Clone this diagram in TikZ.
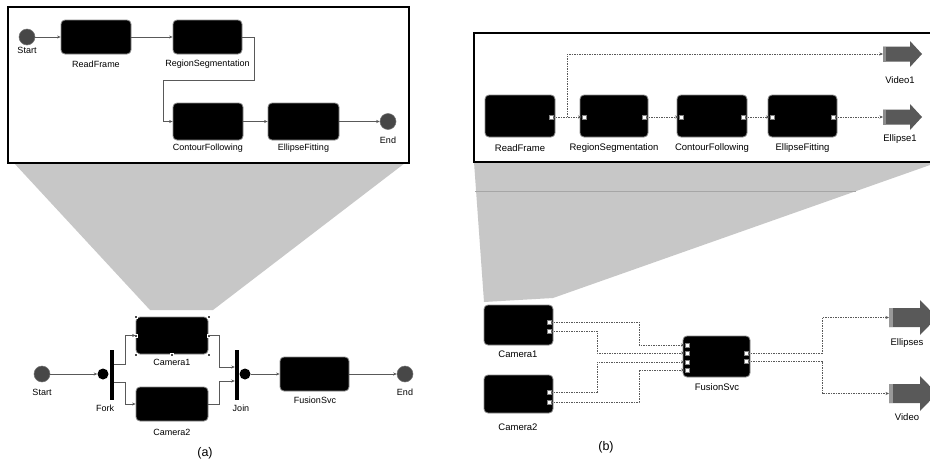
\documentclass[tikz,border=0pt]{standalone}
\usepackage{fontspec}
\setmainfont{Liberation Sans}
\usetikzlibrary{arrows.meta}
\begin{document}
\begin{tikzpicture}[x=1pt,y=-1pt,
 proc/.style={fill=black, draw=black!45, line width=0.8pt, rounded corners=4pt, inner sep=0pt},
 lbl/.style={font=\fontsize{9}{10}\selectfont, inner sep=0pt},
 lblb/.style={font=\fontsize{9.5}{11}\selectfont, inner sep=0pt},
 term/.style={circle, fill=black!72, draw=black!55, line width=0.5pt, minimum size=16pt, inner sep=0pt},
 syncbar/.style={fill=black, inner sep=0pt, minimum width=4pt, minimum height=50pt},
 sdot/.style={circle, fill=black, inner sep=0pt, minimum size=11pt},
 conn/.style={draw=black!65, line width=0.6pt, -{Stealth[length=3.5pt,width=3pt]}},
 dconn/.style={conn, dash pattern=on 1.5pt off 1pt},
 port/.style={rectangle, fill=white, draw=black!50, line width=0.4pt, minimum size=4.5pt, inner sep=0pt},
 handle/.style={rectangle, fill=black!70, draw=white, line width=0.3pt, minimum size=3pt, inner sep=0pt},
 frame/.style={draw=black, line width=1.6pt, fill=white},
 zoomfill/.style={fill=black!22},
 pics/outsmall/.style={code={
   \fill[black!65] (0,-7.5) -- (27,-7.5) -- (27,-13) -- (39,0) -- (27,13) -- (27,7.5) -- (0,7.5) -- cycle;
   \fill[black!45] (0,-7.5) rectangle (3,7.5);
   \coordinate (-in) at (0,0);}},
 pics/outbig/.style={code={
   \fill[black!65] (0,-9.5) -- (31,-9.5) -- (31,-17.5) -- (48,0) -- (31,17.5) -- (31,9.5) -- (0,9.5) -- cycle;
   \fill[black!40] (0,-9.5) rectangle (4,9.5);
   \coordinate (-in) at (0,0);}}
]
\clip (0,0) rectangle (930,466);
\fill[white] (0,0) rectangle (930,466);

% ================= panel (a) =================
\fill[zoomfill] (14,163) -- (405,163) -- (213,310) -- (150,310) -- cycle;
\draw[frame] (8,7) rectangle (409,163);

\node[term] (sA) at (27,37) {};
\node[lbl, anchor=north] at (sA.south) [yshift=-2pt] {Start};
\node[proc, minimum width=70pt, minimum height=34pt] (rfA) at (96,37) {};
\node[lbl] at (96,64) {ReadFrame};
\node[proc, minimum width=69pt, minimum height=34pt] (rsA) at (207.5,37) {};
\node[lbl] at (207.5,64) {RegionSegmentation};
\node[proc, minimum width=70pt, minimum height=37pt] (cfA) at (208,121.5) {};
\node[lbl] at (208,148) {ContourFollowing};
\node[proc, minimum width=71pt, minimum height=37pt] (efA) at (303.5,121.5) {};
\node[lbl] at (303.5,148) {EllipseFitting};
\node[term] (eA) at (388,121.5) {};
\node[lbl] at (388,140) {End};

\draw[conn] (sA.east) -- (rfA.west);
\draw[conn] (rfA.east) -- (rsA.west);
\draw[conn] (rsA.east) -- (254,37) -- (254,80) -- (163,80) -- (163,121.5) -- (cfA.west);
\draw[conn] (cfA.east) -- (efA.west);
\draw[conn] (efA.east) -- (eA.west);

\node[term] (sB) at (42,374) {};
\node[lbl] at (42,392) {Start};
\node[syncbar] (fork) at (112,375) {};
\node[sdot] (forkdot) at (103,374) {};
\node[lbl] at (105,408) {Fork};
\node[proc, minimum width=72pt, minimum height=37pt] (cam1) at (172,335.5) {};
\node[lbl] at (172,362) {Camera1};
\node[proc, minimum width=72pt, minimum height=34pt] (cam2) at (172,404) {};
\node[lbl] at (172,432) {Camera2};
\node[syncbar] (join) at (237,375) {};
\node[sdot] (joindot) at (245,374) {};
\node[lbl] at (241,408) {Join};
\node[proc, minimum width=69pt, minimum height=34pt] (fus) at (314.5,374) {};
\node[lbl] at (315,400) {FusionSvc};
\node[term] (eB) at (405,374) {};
\node[lbl] at (405,392) {End};

\foreach \p in {north west,north east,south west,south east,south,east,west}
  \node[handle] at (cam1.\p) {};

\draw[conn] (sB.east) -- (forkdot.west);
\draw[conn] (fork.east |- 0,364) -- (125,364) -- (125,335.5) -- (cam1.west);
\draw[conn] (fork.east |- 0,382) -- (125,382) -- (125,404) -- (cam2.west);
\draw[conn] (cam1.east) -- (219,335.5) -- (219,367) -- (join.west |- 0,367);
\draw[conn] (cam2.east) -- (219,404) -- (219,381) -- (join.west |- 0,381);
\draw[conn] (joindot.east) -- (fus.west);
\draw[conn] (fus.east) -- (eB.west);

\node[font=\fontsize{12.5}{14}\selectfont, inner sep=0pt] at (205,453) {(a)};

% ================= panel (b) =================
\fill[zoomfill] (474,162) -- (930,162) -- (930,165) -- (553,298) -- (484,302) -- cycle;
\draw[black!35, line width=0.4pt] (475,191) -- (856,191);
\draw[frame] (474,33) rectangle (931,162);

\node[proc, minimum width=70pt, minimum height=42pt] (rfB) at (520,116) {};
\node[lblb] at (520,148) {ReadFrame};
\node[proc, minimum width=68pt, minimum height=42pt] (rsB) at (614,116) {};
\node[lblb] at (614,148) {RegionSegmentation};
\node[proc, minimum width=70pt, minimum height=42pt] (cfB) at (712,116) {};
\node[lblb] at (712,148) {ContourFollowing};
\node[proc, minimum width=69pt, minimum height=42pt] (efB) at (802.5,116) {};
\node[lblb] at (802.5,148) {EllipseFitting};

\node[port] (rfBo) at (551,117) {};
\node[port] (rsBi) at (584,117) {};
\node[port] (rsBo) at (644,117) {};
\node[port] (cfBi) at (681,117) {};
\node[port] (cfBo) at (743,117) {};
\node[port] (efBi) at (772,117) {};
\node[port] (efBo) at (833,117) {};

\pic (v1) at (883,54) {outsmall};
\node[lblb] at (900,80) {Video1};
\pic (el1) at (883,117) {outsmall};
\node[lblb] at (900,139) {Ellipse1};

\coordinate (brB) at (567,117);
\draw[dconn] (rfBo.east) -- (rsBi.west);
\draw[dconn] (brB) -- (567,54) -- (v1-in);
\draw[dconn] (rsBo.east) -- (cfBi.west);
\draw[dconn] (cfBo.east) -- (efBi.west);
\draw[dconn] (efBo.east) -- (el1-in);

\node[proc, minimum width=69pt, minimum height=40pt] (c1B) at (518.5,325) {};
\node[lblb] at (518,354) {Camera1};
\node[proc, minimum width=69pt, minimum height=38pt] (c2B) at (518.5,394) {};
\node[lblb] at (518,427) {Camera2};
\node[proc, minimum width=67pt, minimum height=41pt] (fB) at (716.5,356.5) {};
\node[lblb] at (717,387) {FusionSvc};

\node[port] (c1o1) at (549,322) {};
\node[port] (c1o2) at (549,331) {};
\node[port] (c2o1) at (549,392) {};
\node[port] (c2o2) at (549,402) {};
\node[port] (fi1) at (687,345) {};
\node[port] (fi2) at (687,353) {};
\node[port] (fi3) at (687,362) {};
\node[port] (fi4) at (687,370) {};
\node[port] (fo1) at (746,353) {};
\node[port] (fo2) at (746,361) {};

\pic (ellB) at (889,317.5) {outbig};
\node[lblb] at (907,343) {Ellipses};
\pic (vidB) at (889,393.5) {outbig};
\node[lblb] at (907,417) {Video};

\draw[dconn] (c1o1.east) -- (639,322) -- (639,345) -- (fi1.west);
\draw[dconn] (c1o2.east) -- (597,331) -- (597,353) -- (fi2.west);
\draw[dconn] (c2o1.east) -- (597,392) -- (597,362) -- (fi3.west);
\draw[dconn] (c2o2.east) -- (639,402) -- (639,370) -- (fi4.west);
\draw[dconn] (fo1.east) -- (822,353) -- (822,317.5) -- (ellB-in);
\draw[dconn] (fo2.east) -- (822,361) -- (822,393.5) -- (vidB-in);

\node[font=\fontsize{12.5}{14}\selectfont, inner sep=0pt] at (606,447) {(b)};
\end{tikzpicture}
\end{document}
